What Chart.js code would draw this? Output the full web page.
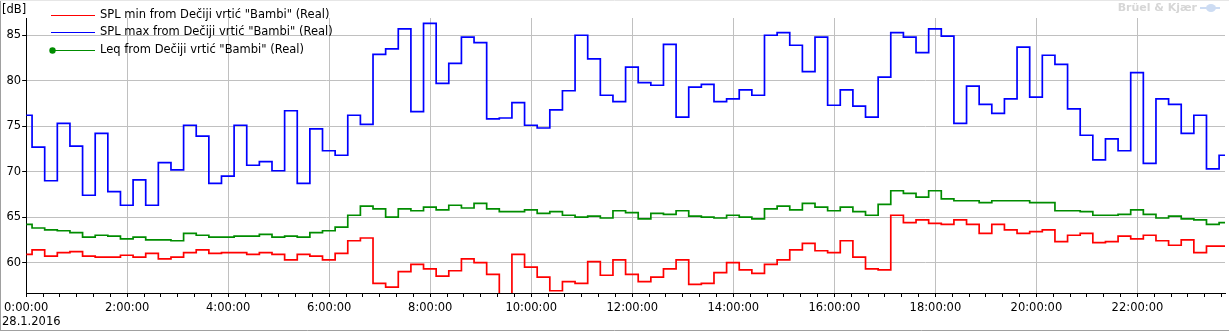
<!DOCTYPE html>
<html><head><meta charset="utf-8">
<script src="https://cdn.jsdelivr.net/npm/chart.js@4/dist/chart.umd.min.js"></script>
<style>html,body{margin:0;padding:0;background:#fff;overflow:hidden}</style>
</head><body>
<canvas id="c" width="1229" height="331"></canvas>
<script>
// ---- data ----
const SERIES_NAMES = ['SPL min from Dečiji vrtić "Bambi" (Real)', 'SPL max from Dečiji vrtić "Bambi" (Real)', 'Leq from Dečiji vrtić "Bambi" (Real)'];
const SERIES_COLORS = ['#ff0000', '#0000ff', '#008c00'];
const DATE_LABEL = '28.1.2016';
const Y_UNIT = '[dB]';
const Y_TICKS = [60, 65, 70, 75, 80, 85];
// time base (minutes after 0:00): first interval partial, then 15-minute intervals
const FIRST_BOUNDARY_MIN = 7;
const INTERVAL_MIN = 15;
const X_END_MIN = 1424;
const SPL_MIN = [60.9,61.4,60.7,61.1,61.2,60.7,60.6,60.6,60.8,60.6,
61.0,60.4,60.6,61.1,61.4,61.0,61.1,61.1,60.9,61.1,
60.9,60.3,60.9,60.7,60.3,61.0,62.4,62.7,57.7,57.3,
59.0,59.8,59.3,58.5,59.1,60.4,60.0,58.7,56.0,60.9,
59.5,58.4,56.9,57.9,57.7,60.1,58.6,60.3,58.7,57.9,
58.4,59.3,60.3,57.6,57.7,58.9,60.0,59.2,58.8,59.8,
60.3,61.4,62.1,61.3,61.1,62.4,60.6,59.3,59.2,65.2,
64.4,64.7,64.3,64.2,64.7,64.2,63.2,64.2,63.6,63.2,
63.4,63.6,62.3,63.0,63.2,62.2,62.3,62.9,62.6,63.0,
62.4,61.9,62.5,61.1,61.8,61.8];
const SPL_MAX = [76.2,72.7,69.0,75.3,72.8,67.4,74.2,67.8,66.3,69.1,
66.3,71.0,70.2,75.1,73.9,68.7,69.5,75.1,70.7,71.1,
70.1,76.7,68.7,74.7,72.3,71.8,76.2,75.2,82.9,83.5,
85.7,76.6,86.3,79.7,81.9,84.8,84.2,75.8,75.9,77.6,
75.1,74.8,76.8,78.9,85.0,82.4,78.4,77.7,81.5,79.8,
79.5,84.0,76.0,79.3,79.6,77.7,78.0,79.0,78.4,85.0,
85.3,83.9,81.0,84.8,77.3,79.0,77.2,76.0,80.4,85.3,
84.8,83.1,85.7,84.9,75.3,79.4,77.4,76.4,78.0,83.7,
78.2,82.8,81.8,76.9,74.0,71.3,73.6,72.3,80.9,70.9,
78.0,77.4,74.2,76.2,70.3,71.8];
const LEQ = [64.2,63.8,63.6,63.5,63.3,62.8,63.0,62.9,62.6,62.8,
62.5,62.5,62.4,63.2,63.0,62.8,62.8,62.9,62.9,63.1,
62.8,62.9,62.8,63.3,63.5,63.9,65.2,66.2,65.9,65.0,
65.9,65.7,66.1,65.8,66.3,66.0,66.5,65.9,65.6,65.6,
65.8,65.4,65.6,65.2,65.0,65.1,64.9,65.7,65.5,64.8,
65.4,65.3,65.7,65.1,65.0,64.9,65.2,65.0,64.8,65.9,
66.2,65.8,66.5,66.1,65.7,66.1,65.6,65.2,66.4,67.9,
67.6,67.2,67.9,67.0,66.8,66.8,66.6,66.8,66.8,66.8,
66.6,66.6,65.7,65.7,65.6,65.2,65.2,65.3,65.8,65.3,
64.9,65.1,64.8,64.7,64.2,64.4];

// ---- build points (start time of each interval) ----
function toPoints(vals) {
  const pts = vals.map((v, i) => ({ x: i === 0 ? 0 : FIRST_BOUNDARY_MIN + INTERVAL_MIN * (i - 1), y: v }));
  pts.push({ x: FIRST_BOUNDARY_MIN + INTERVAL_MIN * (vals.length - 1), y: vals[vals.length - 1] });
  return pts;
}
function fmtTime(m) { return Math.floor(m / 60) + ':00:00'; }

const FONT = { family: 'DejaVu Sans', size: 11.5 };
const GRID = '#c0c0c0';

const extras = {
  id: 'extras',
  afterDraw(chart) {
    const ctx = chart.ctx;
    ctx.save();
    // frame
    ctx.strokeStyle = '#a0a0a0'; ctx.lineWidth = 1;
    ctx.beginPath(); ctx.moveTo(0.5, 0); ctx.lineTo(0.5, 331); ctx.moveTo(0, 330.5); ctx.lineTo(1229, 330.5); ctx.stroke();
    ctx.strokeStyle = '#e6e6e6';
    ctx.beginPath(); ctx.moveTo(0, 0.5); ctx.lineTo(1229, 0.5); ctx.stroke();
    // unit + date
    ctx.fillStyle = '#000'; ctx.font = '11.5px "DejaVu Sans"'; ctx.textBaseline = 'middle'; ctx.textAlign = 'left';
    ctx.fillText(Y_UNIT, 2, 10);
    ctx.fillText(DATE_LABEL, 2, 322);
    // legend
    const rows = [15, 32, 50];
    chart.data.datasets.forEach((ds, i) => {
      const y = rows[i] + 0.5;
      ctx.strokeStyle = ds.borderColor; ctx.lineWidth = 1;
      ctx.beginPath(); ctx.moveTo(51, y); ctx.lineTo(95, y); ctx.stroke();
      if (i === 2) { ctx.fillStyle = ds.borderColor; ctx.beginPath(); ctx.arc(52.5, y, 3.2, 0, Math.PI * 2); ctx.fill(); }
      ctx.fillStyle = '#000';
      ctx.fillText(ds.label, 100, y);
    });
    // logo
    ctx.font = 'bold 11px "DejaVu Sans"'; ctx.fillStyle = '#d6d6d6'; ctx.textAlign = 'right';
    ctx.fillText('Brüel & Kjær', 1197, 8.5);
    ctx.fillStyle = '#cddcf3';
    ctx.beginPath(); ctx.ellipse(1211, 8, 5, 4, 0, 0, Math.PI * 2); ctx.fill();
    ctx.fillRect(1200, 7, 20, 2);
    ctx.restore();
  }
};

new Chart(document.getElementById('c'), {
  type: 'line',
  data: {
    datasets: [
      { label: SERIES_NAMES[0], data: toPoints(SPL_MIN), borderColor: SERIES_COLORS[0], backgroundColor: SERIES_COLORS[0] },
      { label: SERIES_NAMES[1], data: toPoints(SPL_MAX), borderColor: SERIES_COLORS[1], backgroundColor: SERIES_COLORS[1] },
      { label: SERIES_NAMES[2], data: toPoints(LEQ), borderColor: SERIES_COLORS[2], backgroundColor: SERIES_COLORS[2] }
    ].map(d => Object.assign(d, { stepped: 'before', pointRadius: 0, borderWidth: 1.7, fill: false, tension: 0 }))
  },
  options: {
    responsive: false, animation: false, devicePixelRatio: 1,
    layout: { padding: { top: 18, right: 4, left: 0, bottom: 0 } },
    plugins: { legend: { display: false }, tooltip: { enabled: false } },
    scales: {
      x: {
        type: 'linear', min: 0, max: X_END_MIN,
        afterFit: s => { s.height = 38; },
        afterBuildTicks: s => { const t = []; for (let m = 0; m <= X_END_MIN; m += 20) t.push({ value: m }); s.ticks = t; },
        ticks: { autoSkip: false, maxRotation: 0, minRotation: 0, padding: 4, color: '#000', font: FONT,
                 callback: v => (v % 120 === 0 ? fmtTime(v) : '') },
        grid: { color: c => (c.tick && c.tick.value % 120 === 0 ? GRID : 'rgba(0,0,0,0)'), tickColor: '#000', tickLength: 4, lineWidth: 1 },
        border: { color: '#000', width: 1 }
      },
      y: {
        min: 56.65, max: 86.9,
        afterFit: s => { s.width = 26; },
        afterBuildTicks: s => { s.ticks = Y_TICKS.map(v => ({ value: v })); },
        ticks: { padding: 1, color: '#000', font: FONT },
        grid: { color: GRID, tickColor: '#000', tickLength: 4, lineWidth: 1 },
        border: { color: '#000', width: 1 }
      }
    }
  },
  plugins: [extras]
});
</script>
</body></html>
